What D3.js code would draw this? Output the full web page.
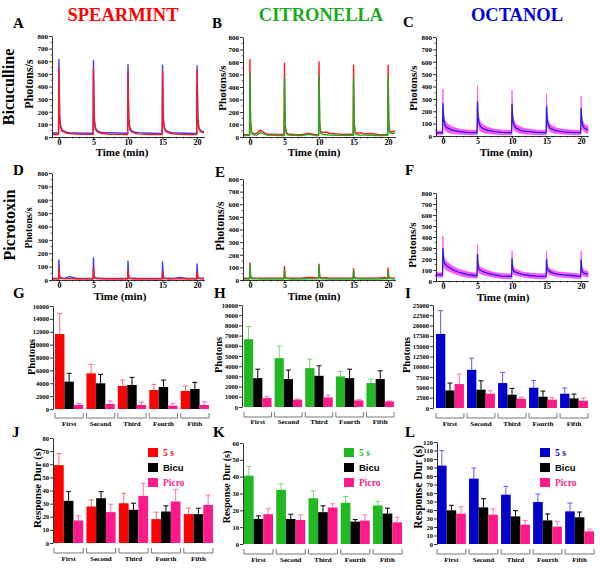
<!DOCTYPE html>
<html><head><meta charset="utf-8">
<script src="https://cdn.jsdelivr.net/npm/d3@7"></script>
<style>
body{margin:0;background:#fff}
svg{display:block}
text{font-family:"Liberation Serif","Times New Roman",serif;font-weight:bold}
</style>
</head><body><svg id="c" width="600" height="568"></svg>
<script>
// ---------- time-series data (minutes) ----------
const tGrid = [-1, -0.05, 0, 0.1, 0.25, 0.5, 1, 1.5, 2.5, 3.5, 4.5,
  4.95, 5, 5.1, 5.25, 5.5, 6, 6.5, 7.5, 8.5, 9.5,
  9.95, 10, 10.1, 10.25, 10.5, 11, 11.5, 12.5, 13.5, 14.5,
  14.95, 15, 15.1, 15.25, 15.5, 16, 16.5, 17.5, 18.5, 19.5,
  19.95, 20, 20.1, 20.25, 20.5, 21];
const timeTicks = [0, 5, 10, 15, 20];

const spearBicuBlue = [32,32,615,175,85,55,40,35,32,30,30, 30,605,165,80,52,38,34,35,32,30, 30,575,160,78,50,38,35,32,30,29, 29,570,160,78,50,38,34,32,30,28, 28,565,158,76,50,40];
const spearBicuRed  = [20,20,545,150,70,45,32,28,24,22,22, 22,545,140,65,42,30,26,22,21,20, 20,520,135,62,40,30,25,22,20,20, 20,525,140,65,42,30,26,22,20,19, 19,530,140,65,42,32];
const citBicuRed    = [18,18,620,120,40,25,30,55,22,20,20, 20,590,110,38,24,22,20,18,30,18, 18,600,115,45,35,40,30,25,20,22, 20,575,110,40,30,35,25,28,20,18, 25,575,120,45,40,50];
const citBicuGreen  = [12,12,510,90,30,18,15,35,15,13,12, 12,475,85,28,16,14,13,12,22,12, 12,485,88,30,20,18,15,14,13,14, 13,470,85,28,18,16,15,14,12,12, 14,475,90,35,28,30];
const octBicuMean   = [25,25,265,140,95,70,55,45,35,30,28, 28,280,145,100,72,55,45,35,30,28, 28,260,135,95,68,52,42,35,30,28, 28,240,130,90,65,50,42,34,30,28, 28,225,125,85,62,50];
const octBicuSem    = [15,15,115,45,40,35,30,25,20,18,18, 18,125,45,40,35,30,25,20,18,18, 18,110,42,38,32,28,24,20,18,18, 18,100,40,35,30,26,22,20,18,18, 18,100,40,35,30,28];
const spearPicroBlue = [12,12,150,30,18,15,14,25,13,12,12, 12,165,32,18,14,13,12,12,12,12, 12,140,28,16,14,13,12,12,12,12, 12,135,28,16,14,13,12,20,12,12, 12,120,26,16,14,13];
const spearPicroRed  = [8,8,90,20,12,10,9,12,8,8,8, 8,95,20,12,10,9,8,8,8,8, 8,70,18,11,9,8,8,8,8,8, 8,65,18,11,9,8,8,10,8,8, 8,60,16,11,9,8];
const citPicroRed    = [14,14,135,30,18,16,15,14,15,14,14, 14,110,25,17,15,14,14,16,20,18, 16,125,28,18,16,18,15,14,14,15, 14,90,24,17,15,14,15,14,14,20, 16,95,24,18,15,14];
const citPicroGreen  = [8,8,120,22,12,10,9,8,8,8,8, 8,75,18,11,9,8,8,8,10,9, 9,115,22,12,10,9,8,8,8,8, 8,75,18,11,9,8,8,8,8,10, 9,70,18,11,9,8];
const octPicroMean   = [58,55,300,190,160,140,120,100,75,60,50, 48,245,130,105,95,80,70,55,45,42, 42,205,110,90,80,70,60,50,45,42, 45,200,110,95,85,70,62,55,50,45, 40,195,100,80,70,60];
const octPicroSem    = [20,20,110,55,45,40,35,30,28,25,22, 22,85,40,35,30,28,25,22,22,22, 22,70,35,30,28,25,22,22,22,22, 22,75,35,30,28,25,22,22,22,22, 22,80,38,32,28,25];

// ---------- bar data ----------
const groups = ["First", "Second", "Third", "Fourth", "Fifth"];
const legendLabels = ["5 s", "Bicu", "Picro"];

const spearPhot5s = [11650, 5540, 3570, 2950, 2800];
const spearPhot5sErr = [3210, 1400, 930, 880, 770];
const spearPhotBicu = [4250, 3990, 3730, 3420, 3100];
const spearPhotBicuErr = [1290, 1400, 1190, 1080, 1040];
const spearPhotPicro = [620, 780, 620, 520, 620];
const spearPhotPicroErr = [260, 460, 420, 360, 510];

const citPhot5s = [6650, 4790, 3810, 3000, 2350];
const citPhot5sErr = [1230, 1200, 880, 490, 390];
const citPhotBicu = [2830, 2740, 3060, 2830, 2740];
const citPhotBicuErr = [880, 880, 980, 880, 810];
const citPhotPicro = [880, 720, 940, 650, 550];
const citPhotPicroErr = [160, 60, 230, 70, 40];

const octPhot5s = [17980, 9270, 6050, 4920, 3470];
const octPhot5sErr = [5650, 2830, 2580, 1770, 1370];
const octPhotBicu = [4270, 4440, 3230, 2740, 2340];
const octPhotBicuErr = [1780, 2170, 1530, 1370, 1050];
const octPhotPicro = [5810, 3470, 2260, 2020, 1770];
const octPhotPicroErr = [2420, 720, 400, 560, 650];

const spearDur5s = [59.3, 27.8, 30.3, 18.2, 22];
const spearDur5sErr = [8.9, 5, 7.6, 5.3, 4.5];
const spearDurBicu = [32.1, 34.1, 25.3, 24, 22];
const spearDurBicuErr = [7, 5, 5, 4.3, 4.5];
const spearDurPicro = [17.2, 23.5, 35.9, 31.6, 29];
const spearDurPicroErr = [3.5, 6, 9.6, 9.3, 7.5];

const citDur5s = [40.6, 32.2, 27.2, 24.5, 22.9];
const citDur5sErr = [5.5, 3.6, 4.4, 3.7, 2.3];
const citDurBicu = [14.9, 14.9, 18.9, 13.3, 18.1];
const citDurBicuErr = [1.8, 2.8, 3.8, 1.2, 3.2];
const citDurPicro = [17.7, 14.3, 21.7, 13.9, 12.9];
const citDurPicroErr = [3.2, 3, 2.2, 3.4, 3];

const octDur5s = [92.2, 76.9, 58, 49.4, 38.4];
const octDur5sErr = [17.6, 12.5, 9.8, 9.4, 9.8];
const octDurBicu = [39.6, 43.1, 32.5, 27.8, 31.4];
const octDurBicuErr = [5.9, 10.2, 6.7, 7.5, 6.2];
const octDurPicro = [35.7, 34.5, 22.7, 20.4, 14.9];
const octDurPicroErr = [8.2, 6.7, 5.1, 6.3, 2.7];

// ---------- drawing ----------
const svg = d3.select("#c");
const SERIF = '"Liberation Serif","Times New Roman",serif';

function txt(x, y, s, size, color, anchor, rot, fam) {
  const t = svg.append("text").attr("x", rot ? 0 : x).attr("y", rot ? 0 : y)
    .attr("font-size", size).attr("fill", color || "#000")
    .attr("text-anchor", anchor || "start").text(s);
  if (rot) t.attr("transform", `translate(${x},${y}) rotate(-90)`);
  if (fam) t.style("font-family", fam);
  return t;
}

function styleAxis(g, size) {
  g.attr("font-size", size).style("font-family", SERIF).style("font-weight", "bold");
  g.selectAll("path,line").attr("stroke", "#000").attr("stroke-width", 0.8);
}

function tracePanel(o) {
  const x = d3.scaleLinear().domain([-1, 21]).range([o.x0, o.x0 + 152]);
  const y = d3.scaleLinear().domain([0, 800]).range([o.y0, o.y1]);
  const g = svg.append("g");
  const line = d3.line().x((d, i) => x(tGrid[i])).y(d => y(d));
  if (o.band) {
    const area = d3.area().x((d, i) => x(tGrid[i]))
      .y0((d, i) => y(Math.max(0, o.mean[i] - o.sem[i]))).y1((d, i) => y(o.mean[i] + o.sem[i]));
    g.append("path").datum(o.mean).attr("d", area).attr("fill", o.bandColor)
      .attr("stroke", o.bandColor).attr("stroke-width", 0.8);
    g.append("path").datum(o.mean).attr("d", line).attr("fill", "none")
      .attr("stroke", o.lineColor).attr("stroke-width", 1.3);
  } else {
    o.series.forEach(s => {
      g.append("path").datum(s.v).attr("d", line).attr("fill", "none")
        .attr("stroke", s.c).attr("stroke-width", 1.4).attr("stroke-linejoin", "round");
    });
  }
  const ya = d3.axisLeft(y).tickValues(d3.range(0, 801, 100)).tickSize(3).tickSizeOuter(0).tickPadding(1);
  const yg = g.append("g").attr("transform", `translate(${o.x0},0)`).call(ya);
  styleAxis(yg, 7);
  g.append("g").selectAll("line").data(d3.range(50, 800, 100)).join("line")
    .attr("x1", o.x0 - 1.5).attr("x2", o.x0).attr("y1", d => y(d)).attr("y2", d => y(d))
    .attr("stroke", "#000").attr("stroke-width", 0.6);
  const xa = d3.axisBottom(x).tickValues(timeTicks).tickSize(2.5).tickSizeOuter(0).tickPadding(0);
  const xg = g.append("g").attr("transform", `translate(0,${o.y0})`).call(xa);
  styleAxis(xg, 8);
  g.append("g").selectAll("line").data(d3.range(-1, 22, 1)).join("line")
    .attr("x1", d => x(d)).attr("x2", d => x(d)).attr("y1", o.y0).attr("y2", o.y0 + 1.5)
    .attr("stroke", "#000").attr("stroke-width", 0.6);
}

function barPanel(o) {
  const x0 = d3.scaleBand().domain(groups).range([o.gx0, o.gx1]).paddingInner(0.1).paddingOuter(0);
  const x1 = d3.scaleBand().domain([0, 1, 2]).range([0, x0.bandwidth()]);
  const y = d3.scaleLinear().domain([0, o.max]).range([o.y0, o.y1]);
  const g = svg.append("g");
  const cx = (d, si) => x0(d) + x1(si) + x1.bandwidth() / 2;
  o.series.forEach((s, si) => {
    const sg = g.append("g");
    sg.selectAll("line.e").data(groups).join("line")
      .attr("x1", d => cx(d, si)).attr("x2", d => cx(d, si))
      .attr("y1", (d, i) => y(s.v[i])).attr("y2", (d, i) => y(s.v[i] + s.e[i]))
      .attr("stroke", s.ec).attr("stroke-width", 1);
    sg.selectAll("line.c").data(groups).join("line")
      .attr("x1", d => cx(d, si) - 2.5).attr("x2", d => cx(d, si) + 2.5)
      .attr("y1", (d, i) => y(s.v[i] + s.e[i])).attr("y2", (d, i) => y(s.v[i] + s.e[i]))
      .attr("stroke", s.ec).attr("stroke-width", 1);
    sg.selectAll("rect").data(groups).join("rect")
      .attr("x", d => x0(d) + x1(si)).attr("width", x1.bandwidth())
      .attr("y", (d, i) => y(s.v[i])).attr("height", (d, i) => o.y0 - y(s.v[i]))
      .attr("fill", s.c);
  });
  const ya = d3.axisLeft(y).tickValues(d3.range(0, o.max + 0.001, o.step)).tickFormat(d3.format("d"))
    .tickSize(3).tickSizeOuter(0).tickPadding(1);
  const yg = g.append("g").attr("transform", `translate(${o.ax},0)`).call(ya);
  styleAxis(yg, 6.5);
  const bg = g.append("g").attr("stroke", "#777").attr("stroke-width", 1).attr("fill", "none");
  bg.selectAll("path").data(groups).join("path")
    .attr("d", d => `M${x0(d)},${o.by}V${o.by + 5}H${x0(d) + x0.bandwidth()}V${o.by}`);
  g.selectAll("text.gl").data(groups).join("text")
    .attr("x", d => x0(d) + x0.bandwidth() / 2).attr("y", o.ly)
    .attr("text-anchor", "middle").attr("font-size", 7).text(d => d);
}

// titles
txt(123, 21, "SPEARMINT", 18.5, "#ff0000", "middle");
txt(321, 21, "CITRONELLA", 18.5, "#1aaa1a", "middle");
txt(517, 21, "OCTANOL", 18.5, "#0000dd", "middle");

// row labels
txt(14, 87, "Bicuculline", 16, "#000", "middle", true);
txt(15, 225, "Picrotoxin", 16, "#000", "middle", true);

// panel letters
[["A",13,28],["B",212,28],["C",403,27],["D",13,175],["E",215,177],["F",405,175],
 ["G",13,298],["H",214,298],["I",405,298],["J",12,437],["K",213,437],["L",405,437]]
  .forEach(p => txt(p[1], p[2], p[0], 15, "#000", "start"));

// time-series panels
tracePanel({x0: 52, y0: 137, y1: 36, series: [{v: spearBicuBlue, c: "#3b3bff"}, {v: spearBicuRed, c: "#ff1a1a"}]});
tracePanel({x0: 243, y0: 137, y1: 37, series: [{v: citBicuRed, c: "#ff1a1a"}, {v: citBicuGreen, c: "#22aa22"}]});
tracePanel({x0: 436, y0: 136, y1: 37, band: true, mean: octBicuMean, sem: octBicuSem, bandColor: "#ff55ff", lineColor: "#2020dd"});
tracePanel({x0: 52, y0: 280, y1: 173, series: [{v: spearPicroBlue, c: "#3b3bff"}, {v: spearPicroRed, c: "#ff1a1a"}]});
tracePanel({x0: 243, y0: 280, y1: 179, series: [{v: citPicroRed, c: "#ff1a1a"}, {v: citPicroGreen, c: "#22aa22"}]});
tracePanel({x0: 436, y0: 281, y1: 193, band: true, mean: octPicroMean, sem: octPicroSem, bandColor: "#ff55ff", lineColor: "#2020dd"});

// axis titles (time series)
[[33,84,12],[226,88,11],[417,88,11],[32,228,10],[224,226,12],[416,245,11]]
  .forEach(p => txt(p[0], p[1], "Photons/s", p[2], "#000", "middle", true));
[[122,156],[314,156],[506,156],[120,300],[314,300],[503,301]]
  .forEach(p => txt(p[0], p[1], "Time (min)", 11, "#000", "middle"));

// bar panels
const RED = "#ff0000", REDE = "#ff6b6b", BLK = "#000", PNK = "#ff1a8c", PNKE = "#ff6fb5",
      GRN = "#22b822", GRNE = "#6ddd6d", BLU = "#0000cc", BLUE_E = "#5a5aff";

barPanel({gx0: 55, gx1: 209, ax: 53, y0: 409, y1: 306, max: 16000, step: 2000, by: 413, ly: 426,
  series: [{v: spearPhot5s, e: spearPhot5sErr, c: RED, ec: REDE},
           {v: spearPhotBicu, e: spearPhotBicuErr, c: BLK, ec: BLK},
           {v: spearPhotPicro, e: spearPhotPicroErr, c: PNK, ec: PNKE}]});
barPanel({gx0: 244, gx1: 394, ax: 242, y0: 407, y1: 305, max: 10000, step: 1000, by: 412, ly: 424,
  series: [{v: citPhot5s, e: citPhot5sErr, c: GRN, ec: GRNE},
           {v: citPhotBicu, e: citPhotBicuErr, c: BLK, ec: BLK},
           {v: citPhotPicro, e: citPhotPicroErr, c: PNK, ec: PNKE}]});
barPanel({gx0: 436, gx1: 588, ax: 433, y0: 408, y1: 305, max: 25000, step: 2500, by: 413, ly: 426,
  series: [{v: octPhot5s, e: octPhot5sErr, c: BLU, ec: BLUE_E},
           {v: octPhotBicu, e: octPhotBicuErr, c: BLK, ec: BLK},
           {v: octPhotPicro, e: octPhotPicroErr, c: PNK, ec: PNKE}]});
barPanel({gx0: 54, gx1: 213, ax: 53, y0: 543, y1: 438, max: 80, step: 10, by: 548, ly: 561,
  series: [{v: spearDur5s, e: spearDur5sErr, c: RED, ec: REDE},
           {v: spearDurBicu, e: spearDurBicuErr, c: BLK, ec: BLK},
           {v: spearDurPicro, e: spearDurPicroErr, c: PNK, ec: PNKE}]});
barPanel({gx0: 244, gx1: 402, ax: 243, y0: 544, y1: 443, max: 60, step: 10, by: 549, ly: 562,
  series: [{v: citDur5s, e: citDur5sErr, c: GRN, ec: GRNE},
           {v: citDurBicu, e: citDurBicuErr, c: BLK, ec: BLK},
           {v: citDurPicro, e: citDurPicroErr, c: PNK, ec: PNKE}]});
barPanel({gx0: 437, gx1: 594, ax: 437, y0: 544, y1: 442, max: 120, step: 10, by: 549, ly: 562,
  series: [{v: octDur5s, e: octDur5sErr, c: BLU, ec: BLUE_E},
           {v: octDurBicu, e: octDurBicuErr, c: BLK, ec: BLK},
           {v: octDurPicro, e: octDurPicroErr, c: PNK, ec: PNKE}]});

// bar axis titles
[[35,357],[222,355],[410,355]].forEach(p => txt(p[0], p[1], "Photons", 10.5, "#000", "middle", true));
[[41,488,11],[230,487,10],[422,487,11.5]].forEach(p => txt(p[0], p[1], "Response Dur (s)", p[2], "#000", "middle", true));

// legends
function legend(x, firstColor) {
  const cols = [firstColor, BLK, PNK];
  const ys = [448, 463, 478];
  legendLabels.forEach((l, i) => {
    svg.append("rect").attr("x", x).attr("y", ys[i]).attr("width", 10).attr("height", 9).attr("fill", cols[i]);
    const t = txt(x + 15, ys[i] + 8, l, 9.5, i === 1 ? "#000" : cols[i], "start");
    if (i === 1) t.style("font-family", '"Liberation Sans",Arial,sans-serif');
  });
}
legend(148, RED);
legend(344, GRN);
legend(540, BLU);
</script>
</body></html>
